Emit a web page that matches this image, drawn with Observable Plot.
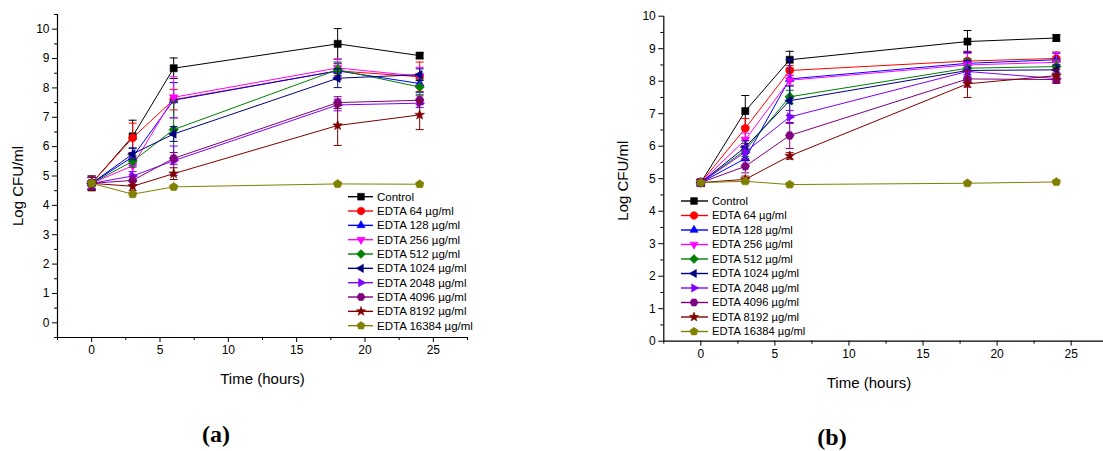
<!DOCTYPE html>
<html>
<head>
<meta charset="utf-8">
<script src="https://cdn.jsdelivr.net/npm/d3@7"></script>
<script src="https://cdn.jsdelivr.net/npm/@observablehq/plot@0.6"></script>
<style>
  html, body { margin: 0; padding: 0; background: #fff; overflow: hidden; }
  #wrap { position: relative; width: 1103px; height: 451px; overflow: hidden; background: #fff; font-family: "Liberation Sans", Arial, sans-serif; }
  #wrap svg { position: absolute; }
  .panel-tag { position: absolute; font-family: "Liberation Serif", "DejaVu Serif", serif; font-size: 24px; font-weight: bold; transform: translate(-50%, -50%); }
</style>
</head>
<body>
<div id="wrap"></div>
<script>
// ---------- data ----------
const times = [0, 3, 6, 18, 24];
const seriesNames = ["Control", "EDTA 64 µg/ml", "EDTA 128 µg/ml", "EDTA 256 µg/ml", "EDTA 512 µg/ml",
  "EDTA 1024 µg/ml", "EDTA 2048 µg/ml", "EDTA 4096 µg/ml", "EDTA 8192 µg/ml", "EDTA 16384 µg/ml"];
const seriesColors = ["#000000", "#FF0000", "#0000FF", "#FF00FF", "#008000", "#000080", "#8000FF", "#800080", "#800000", "#808000"];
const xTicks = [0, 5, 10, 15, 20, 25];
const xMinorTicks = [-2.5, 2.5, 7.5, 12.5, 17.5, 22.5, 27.5];
const yTicksA = [0, 1, 2, 3, 4, 5, 6, 7, 8, 9, 10];
const yTicksB = [0, 1, 2, 3, 4, 5, 6, 7, 8, 9, 10];
const xDomain = [-2.5, 27.5];
const yDomainA = [-0.5, 10.5];
const yDomainB = [0, 10];

// panel (a) means and errors
const a_control = [4.75, 6.35, 8.67, 9.50, 9.10];
const a_64      = [4.75, 6.30, 7.60, 8.58, 8.38];
const a_128     = [4.75, 5.65, 7.58, 8.58, 8.15];
const a_256     = [4.75, 5.35, 7.68, 8.68, 8.40];
const a_512     = [4.75, 5.50, 6.58, 8.62, 8.03];
const a_1024    = [4.75, 5.75, 6.43, 8.33, 8.45];
const a_2048    = [4.75, 5.00, 5.52, 7.42, 7.48];
const a_4096    = [4.75, 4.85, 5.60, 7.50, 7.58];
const a_8192    = [4.75, 4.65, 5.08, 6.72, 7.08];
const a_16384   = [4.75, 4.38, 4.63, 4.73, 4.72];

const a_control_err = [0.25, 0.55, 0.35, 0.52, 0.10];
const a_64_err      = [0.20, 0.50, 0.35, 0.25, 0.50];
const a_128_err     = [0.20, 0.30, 0.60, 0.30, 0.30];
const a_256_err     = [0.20, 0.30, 0.70, 0.30, 0.30];
const a_512_err     = [0.20, 0.20, 0.95, 0.20, 0.25];
const a_1024_err    = [0.20, 0.20, 0.25, 0.32, 0.20];
const a_2048_err    = [0.20, 0.15, 0.50, 0.20, 0.15];
const a_4096_err    = [0.20, 0.15, 0.20, 0.20, 0.15];
const a_8192_err    = [0.25, 0.15, 0.20, 0.68, 0.50];
const a_16384_err   = [0.10, 0.05, 0.05, 0.05, 0.05];

// panel (b) means and errors
const b_control = [4.88, 7.08, 8.66, 9.22, 9.33];
const b_64      = [4.88, 6.55, 8.33, 8.62, 8.70];
const b_128     = [4.88, 5.62, 8.07, 8.55, 8.66];
const b_256     = [4.88, 6.20, 8.03, 8.50, 8.58];
const b_512     = [4.88, 5.88, 7.52, 8.40, 8.45];
const b_1024    = [4.88, 5.97, 7.40, 8.33, 8.35];
const b_2048    = [4.88, 5.82, 6.90, 8.30, 8.08];
const b_4096    = [4.88, 5.38, 6.33, 8.07, 8.05];
const b_8192    = [4.88, 4.98, 5.70, 7.92, 8.17];
const b_16384   = [4.88, 4.92, 4.82, 4.86, 4.90];

const b_control_err = [0.10, 0.48, 0.26, 0.34, 0.10];
const b_64_err      = [0.10, 0.30, 0.15, 0.30, 0.20];
const b_128_err     = [0.10, 0.20, 0.60, 0.35, 0.20];
const b_256_err     = [0.10, 0.20, 0.15, 0.35, 0.30];
const b_512_err     = [0.10, 0.20, 0.20, 0.30, 0.20];
const b_1024_err    = [0.10, 0.20, 0.45, 0.30, 0.15];
const b_2048_err    = [0.10, 0.20, 0.20, 0.30, 0.15];
const b_4096_err    = [0.10, 0.20, 0.40, 0.25, 0.10];
const b_8192_err    = [0.10, 0.10, 0.10, 0.42, 0.20];
const b_16384_err   = [0.05, 0.05, 0.05, 0.05, 0.05];

const meansA = [a_control, a_64, a_128, a_256, a_512, a_1024, a_2048, a_4096, a_8192, a_16384];
const errsA  = [a_control_err, a_64_err, a_128_err, a_256_err, a_512_err, a_1024_err, a_2048_err, a_4096_err, a_8192_err, a_16384_err];
const meansB = [b_control, b_64, b_128, b_256, b_512, b_1024, b_2048, b_4096, b_8192, b_16384];
const errsB  = [b_control_err, b_64_err, b_128_err, b_256_err, b_512_err, b_1024_err, b_2048_err, b_4096_err, b_8192_err, b_16384_err];

// ---------- symbols ----------
function poly(points) {
  return { draw(ctx, size) {
    const s = Math.sqrt(size);
    points.forEach(([x, y], i) => i ? ctx.lineTo(x * s, y * s) : ctx.moveTo(x * s, y * s));
    ctx.closePath();
  }};
}
function regular(n, R, a0) {
  const pts = [];
  for (let k = 0; k < n; k++) { const a = a0 + k * 2 * Math.PI / n; pts.push([R * Math.cos(a), R * Math.sin(a)]); }
  return poly(pts);
}
function star(Ro, Ri) {
  const pts = [];
  for (let k = 0; k < 10; k++) { const a = -Math.PI / 2 + k * Math.PI / 5; const R = k % 2 ? Ri : Ro; pts.push([R * Math.cos(a), R * Math.sin(a)]); }
  return poly(pts);
}
const seriesSymbols = [
  poly([[-0.5, -0.5], [0.5, -0.5], [0.5, 0.5], [-0.5, 0.5]]),       // square
  regular(24, 0.56, 0),                                             // circle
  poly([[0, -0.7], [0.606, 0.35], [-0.606, 0.35]]),                 // triangle up
  poly([[0, 0.7], [0.606, -0.35], [-0.606, -0.35]]),                // triangle down
  poly([[0, -0.66], [0.66, 0], [0, 0.66], [-0.66, 0]]),             // diamond
  poly([[-0.7, 0], [0.35, -0.606], [0.35, 0.606]]),                 // triangle left
  poly([[0.7, 0], [-0.35, -0.606], [-0.35, 0.606]]),                // triangle right
  regular(6, 0.6, 0),                                               // hexagon
  star(0.72, 0.3),                                                  // star
  regular(5, 0.62, -Math.PI / 2)                                    // pentagon
];
const capSym = { draw(ctx) { ctx.moveTo(-4, 0); ctx.lineTo(4, 0); } };

function tidy(means, errs) {
  const rows = [];
  means.forEach((vals, si) => vals.forEach((v, ti) => rows.push({ s: seriesNames[si], si, t: times[ti], v, e: errs[si][ti] })));
  return rows;
}

function makePanel(means, errs, yDomain, yTicks, opts) {
  const rows = tidy(means, errs);
  const yMinor = d3.range(yDomain[0], yDomain[1] + 0.001, 0.5).filter(v => v % 1 !== 0);
  const marks = [
    Plot.ruleY([yDomain[0]], { stroke: "#000", strokeWidth: 1.2 }),
    Plot.ruleX([xDomain[0]], { stroke: "#000", strokeWidth: 1.2 }),
    Plot.axisX({ ticks: xTicks, tickSize: 5, tickPadding: 3, label: null, fontSize: 12, tickFormat: d => String(d) }),
    Plot.axisX({ ticks: xMinorTicks, tickSize: 3, label: null, tickFormat: () => "" }),
    Plot.axisY({ ticks: yTicks, tickSize: 5, tickPadding: 3, label: null, fontSize: 12, tickFormat: d => String(d) }),
    Plot.axisY({ ticks: yMinor, tickSize: 3, label: null, tickFormat: () => "" }),
    Plot.text(["Time (hours)"], { text: d => d, frameAnchor: "bottom", textAnchor: "middle", lineAnchor: "middle", dx: opts.xLabelDx, dy: opts.xLabelDy, fontSize: 15 }),
    Plot.text(["Log CFU/ml"], { text: d => d, frameAnchor: "left", textAnchor: "middle", lineAnchor: "middle", rotate: -90, dx: opts.yLabelDx, dy: opts.yLabelDy, fontSize: 15 })
  ];
  seriesNames.forEach((name, si) => {
    const d = rows.filter(r => r.si === si);
    const c = seriesColors[si];
    marks.push(
      Plot.ruleX(d, { x: "t", y1: r => r.v - r.e, y2: r => r.v + r.e, stroke: c, strokeWidth: 1 }),
      Plot.dot(d, { x: "t", y: r => r.v + r.e, symbol: capSym, r: 4, stroke: c, strokeWidth: 1, fill: "none" }),
      Plot.dot(d, { x: "t", y: r => r.v - r.e, symbol: capSym, r: 4, stroke: c, strokeWidth: 1, fill: "none" }),
      Plot.line(d, { x: "t", y: "v", stroke: c, strokeWidth: 1 }),
      Plot.dot(d, { x: "t", y: "v", symbol: seriesSymbols[si], r: 4, fill: c, stroke: c, strokeWidth: 0.6 })
    );
  });
  return Plot.plot({
    width: opts.width, height: opts.height,
    marginLeft: opts.ml, marginRight: opts.mr, marginTop: opts.mt, marginBottom: opts.mb,
    x: { domain: xDomain },
    y: { domain: yDomain },
    style: { fontFamily: "'Liberation Sans', Arial, sans-serif", fontSize: "12px", color: "#000", background: "transparent", overflow: "visible" },
    marks
  });
}

const wrap = document.getElementById("wrap");

const svgA = makePanel(meansA, errsA, yDomainA, yTicksA, {
  width: 560, height: 400, ml: 57, mr: 93, mt: 14, mb: 63,
  xLabelDx: 0, xLabelDy: 42, yLabelDx: -39, yLabelDy: 10
});
svgA.style.left = "0px"; svgA.style.top = "0px";
wrap.appendChild(svgA);

const svgB = makePanel(meansB, errsB, yDomainB, yTicksB, {
  width: 520, height: 400, ml: 63.3, mr: 12.3, mt: 15.7, mb: 59.3,
  xLabelDx: -17, xLabelDy: 42, yLabelDx: -41, yLabelDy: 2
});
svgB.style.left = "600px"; svgB.style.top = "0px";
wrap.appendChild(svgB);

// ---------- legends ----------
const leg = d3.select(wrap).append("svg")
  .attr("width", 1103).attr("height", 451)
  .style("left", "0px").style("top", "0px").style("pointer-events", "none");

function legend(x0, x1, xm, xt, y0, dy, fs) {
  seriesNames.forEach((name, i) => {
    const y = y0 + i * dy;
    const c = seriesColors[i];
    const g = leg.append("g");
    g.append("line").attr("x1", x0).attr("x2", x1).attr("y1", y).attr("y2", y).attr("stroke", c).attr("stroke-width", 1.4);
    g.append("path").attr("d", d3.symbol(seriesSymbols[i], Math.PI * 3.8 * 3.8)()).attr("transform", `translate(${xm},${y})`)
      .attr("fill", c).attr("stroke", c).attr("stroke-width", 0.6);
    g.append("text").attr("x", xt).attr("y", y).attr("dy", "0.35em").attr("font-size", fs)
      .attr("font-family", "'Liberation Sans', Arial, sans-serif").attr("fill", "#000").text(name);
  });
}
legend(348, 373, 361, 377, 196.7, 14.33, 11.5);
legend(681, 708, 694, 712, 201, 14.5, 11.2);

// ---------- panel tags ----------
[["(a)", 216, 434], ["(b)", 832, 437]].forEach(([t, x, y]) => {
  const d = document.createElement("div");
  d.className = "panel-tag"; d.textContent = t;
  d.style.left = x + "px"; d.style.top = y + "px";
  wrap.appendChild(d);
});
</script>
</body>
</html>
